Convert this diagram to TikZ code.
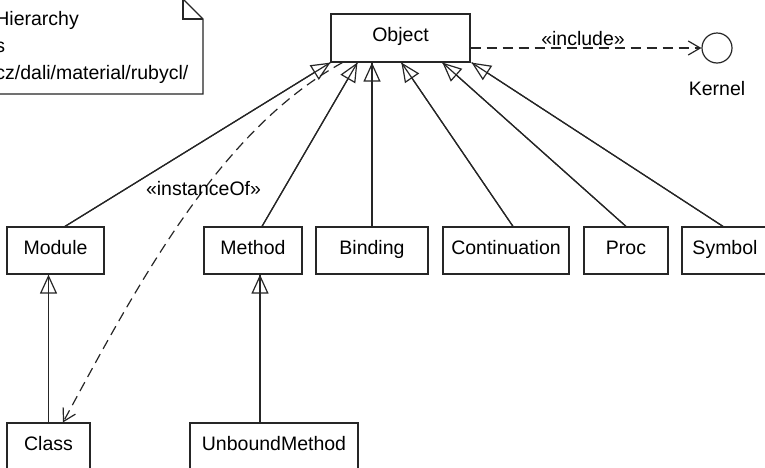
\documentclass[tikz,border=0pt]{standalone}
\usepackage{fontspec}
\setmainfont{Liberation Sans}
\usetikzlibrary{arrows.meta}
\begin{document}
\begin{tikzpicture}[x=0.5pt,y=-0.5pt,
  every node/.style={font=\fontsize{9.75}{11.7}\selectfont, text height=7pt, text depth=3.5pt, inner sep=0pt},
  line/.style={line width=0.6pt, draw=black!85},
  cls/.style={draw=black!85, line width=0.6pt, rectangle, minimum height=23.5pt},
  gen/.style={line, -{Triangle[open, length=9.5pt, width=8.5pt]}, postaction={draw=black!85, line width=0.6pt, arrows=-}},
  dep/.style={line, dash pattern=on 5pt off 3pt, -{Straight Barb[length=6pt, width=7pt]}},
]
\useasboundingbox (0,0) rectangle (765,467);
\fill[white] (0,0) rectangle (765,467);

% note (cut at the left edge)
\draw[line] (-10,94) -- (203,94) -- (203,19) -- (183,-1) -- (-10,-1);
\draw[line] (183,-1) -- (183,19) -- (203,19);
\node[anchor=base west] (n1) at (-5,25.5) {Hierarchy};
\node[anchor=base west] (n2) at (-5,52.5) {s};
\node[anchor=base west] (n3) at (-5,79.5) {cz/dali/material/rubycl/};

% classes
\node[cls, minimum width=69.5pt, minimum height=24pt] (Object) at (400.5,38) {Object};
\node[draw=black!85, line width=0.6pt, circle, minimum size=15pt] (Kernel) at (717,48) {};
\node (KernelLbl) at (717,91.5) {Kernel};

\node[cls, minimum width=48.5pt] (Module) at (55.5,250.5) {Module};
\node[cls, minimum width=49pt] (Method) at (253,250.5) {Method};
\node[cls, minimum width=56pt] (Binding) at (372,250.5) {Binding};
\node[cls, minimum width=63pt] (Continuation) at (506,250.5) {Continuation};
\node[cls, minimum width=42pt] (Proc) at (626,250.5) {Proc};
\node[cls, minimum width=43pt] (Symbol) at (725,250.5) {Symbol};
\node[cls, minimum width=41.5pt] (Class) at (48.5,446.5) {Class};
\node[cls, minimum width=84pt] (UnboundMethod) at (274,446.5) {UnboundMethod};

% generalizations
\draw[gen] ([xshift=4.75pt]Module.north) -- (Object.south west);
\draw[gen] ([xshift=4.5pt]Method.north) -- ([xshift=13.5pt]Object.south west);
\draw[gen] (Binding.north) -- (Binding.north |- Object.south);
\draw[gen] ([xshift=3.5pt]Continuation.north) -- ([xshift=35.5pt]Object.south west);
\draw[gen] (Proc.north) -- ([xshift=56pt]Object.south west);
\draw[gen] ([xshift=-1pt]Symbol.north) -- ([xshift=0.5pt]Object.south east);
\draw[gen] (Class.north) -- (Class.north |- Module.south);
\draw[gen] ([xshift=-7pt]UnboundMethod.north) -- ([xshift=-7pt]UnboundMethod.north |- Method.south);

% dependencies
\draw[dep] ([xshift=6pt]Object.south west) .. controls (220,130) and (140,280) .. ([xshift=7.25pt]Class.north);
\node (instLbl) at (203.5,191.5) {«instanceOf»};
\draw[dep] (Object.east |- Kernel.west) -- (Kernel.west);
\node (inclLbl) at (583,41.5) {«include»};
\end{tikzpicture}
\end{document}
